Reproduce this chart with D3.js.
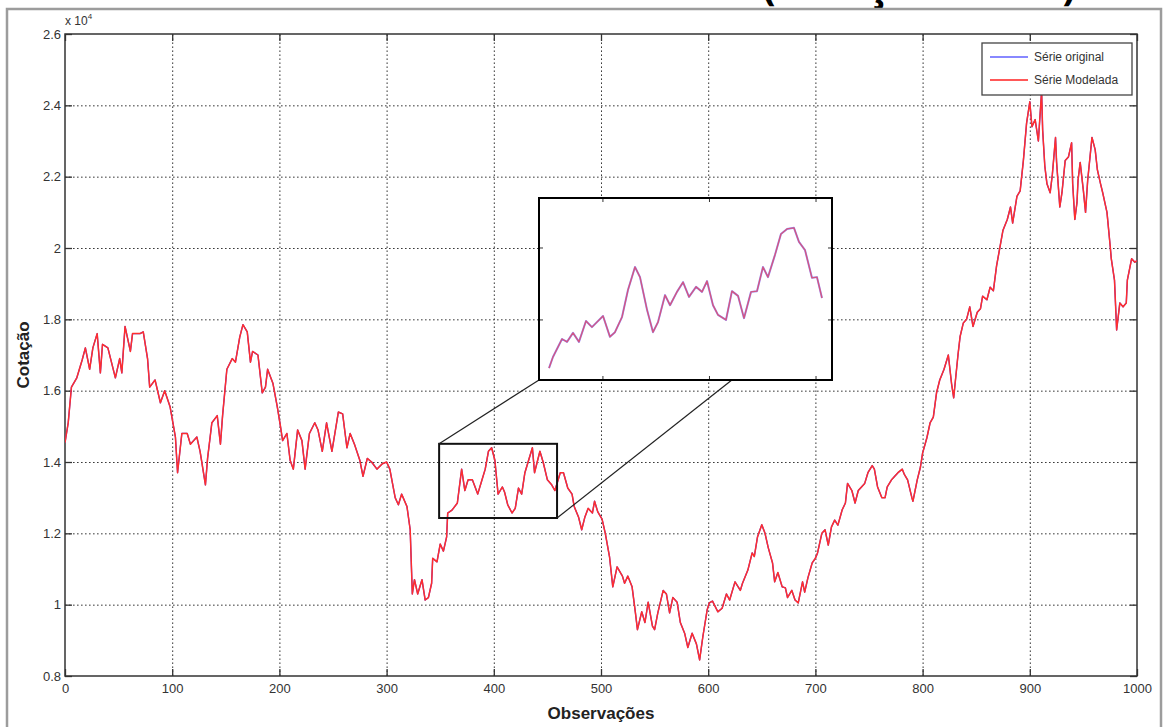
<!DOCTYPE html>
<html>
<head>
<meta charset="utf-8">
<script src="https://cdn.jsdelivr.net/npm/d3@7"></script>
<style>
  body { margin: 0; background: #fff; }
  svg { display: block; }
</style>
</head>
<body>
<svg id="chart" width="1163" height="727"></svg>
<script>
// Observation numbers and closing quotes (points)
const obsIndex = [
  0, 3, 6, 11, 16, 19, 23, 26, 30, 33,
  35, 40, 47, 51, 53, 56, 61, 63, 70, 73,
  77, 79, 84, 89, 93, 98, 103, 105, 109, 114,
  117, 123, 126, 131, 133, 137, 142, 145, 147, 151,
  156, 159, 163, 166, 170, 173, 175, 180, 184, 187,
  189, 194, 198, 201, 203, 207, 210, 213, 217, 221,
  224, 228, 233, 236, 240, 244, 249, 255, 259, 263,
  266, 270, 275, 278, 282, 286, 291, 296, 300, 303,
  308, 311, 314, 319, 322, 324, 326, 329, 333, 336,
  339, 342, 343, 347, 350, 353, 356, 357, 361, 366,
  370, 373, 376, 380, 385, 389, 392, 395, 398, 401,
  404, 408, 410, 413, 417, 420, 423, 426, 429, 432,
  436, 438, 443, 446, 450, 454, 457, 462, 465, 469,
  473, 475, 479, 482, 485, 488, 492, 494, 497, 501,
  504, 508, 511, 515, 520, 522, 525, 529, 532, 534,
  538, 541, 544, 548, 550, 553, 558, 561, 564, 567,
  571, 574, 578, 581, 585, 589, 592, 595, 599, 601,
  604, 609, 613, 617, 620, 625, 630, 632, 637, 641,
  643, 646, 650, 653, 656, 660, 662, 665, 669, 672,
  674, 678, 681, 684, 688, 690, 693, 697, 700, 702,
  706, 709, 712, 715, 718, 721, 725, 728, 730, 734,
  737, 740, 743, 746, 749, 753, 755, 758, 762, 765,
  767, 771, 774, 777, 781, 783, 786, 790, 791, 795,
  798, 800, 804, 807, 810, 813, 816, 820, 824, 827,
  829, 833, 835, 838, 841, 844, 847, 851, 854, 856,
  860, 863, 866, 869, 872, 875, 879, 882, 884, 888,
  891, 894, 897, 900, 902, 905, 908, 911, 912, 914,
  916, 919, 921, 924, 925, 928, 930, 933, 936, 939,
  940, 942, 944, 945, 947, 950, 952, 954, 958, 961,
  963, 966, 968, 972, 975, 976, 979, 981, 984, 987,
  990, 991, 995, 998, 1000
];

const serieOriginal = [
  14540, 15100, 16100, 16360, 16860, 17200, 16600, 17200, 17600, 16500,
  17300, 17200, 16360, 16900, 16500, 17800, 17100, 17600, 17600, 17650,
  16900, 16100, 16300, 15660, 16000, 15550, 14700, 13700, 14800, 14800,
  14500, 14700, 14300, 13360, 14100, 15100, 15300, 14500, 15300, 16600,
  16900, 16800, 17500, 17850, 17650, 16800, 17100, 17000, 15940, 16100,
  16600, 16200, 15550, 15000, 14600, 14800, 14050, 13800, 14900, 14600,
  13800, 14800, 15100, 14900, 14300, 15100, 14300, 15400, 15350, 14400,
  14800, 14500, 14050, 13600, 14100, 14000, 13800, 13950, 14000, 13800,
  13000, 12800, 13100, 12750, 12100, 10300, 10700, 10300, 10700, 10130,
  10200, 10600, 11300, 11200, 11700, 11500, 11900, 12570, 12650, 12850,
  13800, 13200, 13500, 13500, 13100, 13500, 13800, 14300, 14400, 14050,
  13100, 13300, 13160, 12800, 12570, 12700, 13270, 13100, 13700, 14000,
  14400, 13700, 14300, 14000, 13500, 13360, 13200, 13700, 13700, 13270,
  13100, 12750, 12460, 12100, 12460, 12700, 12570, 12900, 12600, 12400,
  12000, 11330, 10500, 11060, 10800, 10600, 10800, 10500, 9800, 9300,
  9800, 9500, 10070, 9400, 9300, 9770, 10400, 10300, 9770, 10200,
  10070, 9500, 9200, 8800, 9200, 8900, 8450, 9100, 9850, 10050,
  10100, 9800, 9900, 10300, 10130, 10640, 10400, 10600, 10970, 11450,
  11350, 11900, 12240, 12000, 11600, 11170, 10640, 10900, 10500, 10470,
  10200, 10400, 10130, 10050, 10640, 10350, 10750, 11170, 11300, 11450,
  12000, 12100, 11670, 12180, 12370, 12230, 12660, 12850, 13400, 13200,
  12850, 13200, 13300, 13400, 13700, 13900, 13800, 13300, 13000, 13000,
  13300, 13500, 13600, 13700, 13800, 13650, 13500, 13000, 12900, 13500,
  13860, 14250, 14680, 15100, 15260, 15940, 16300, 16600, 17000, 16200,
  15800, 17000, 17520, 17900, 18000, 18350, 17800, 18200, 18300, 18650,
  18550, 18900, 18800, 19500, 20000, 20500, 20800, 21150, 20700, 21450,
  21600, 22450, 23500, 24100, 23400, 23600, 23000, 24400, 23300, 22300,
  21800, 21550, 22050, 23100, 22400, 21150, 21550, 22450, 22550, 22950,
  21800, 20800, 21270, 21900, 22400, 21600, 21000, 21900, 23100, 22750,
  22200, 21800, 21550, 21000, 20050, 19700, 19100, 17700, 18460, 18350,
  18460, 19100, 19700, 19600, 19650
];

// The fitted series follows the original point for point
const serieModelada = serieOriginal;

const xTicks = [0, 100, 200, 300, 400, 500, 600, 700, 800, 900, 1000];
const yTicks = [8000, 10000, 12000, 14000, 16000, 18000, 20000, 22000, 24000, 26000];
const yTickLabels = ['0.8', '1', '1.2', '1.4', '1.6', '1.8', '2', '2.2', '2.4', '2.6'];
const legendLabels = ['Série original', 'Série Modelada'];
const seriesColors = ['#3838ff', '#ff2e2e'];

// Window of the main chart that is magnified in the detail panel
const zoomObsRange = [349, 459];
const zoomValRange = [12430, 14510];

// Detail panel curve (its own units)
const detalheX = [
  9.4, 13.1, 21.6, 26.3, 31.9, 37.5, 44.1, 49.7, 60.1, 66.6,
  71.3, 77.9, 83.5, 90.1, 94.8, 101.4, 107.0, 111.7, 118.3, 123.0,
  129.5, 135.2, 140.8, 147.4, 153.0, 157.7, 163.3, 168.0, 175.5, 181.1,
  186.8, 192.4, 199.0, 204.6, 210.2, 214.9, 221.5, 227.1, 232.8, 239.3,
  244.0, 249.7, 256.2, 260.9, 265.6
];
const detalheY = [
  1.466, 1.497, 1.547, 1.539, 1.564, 1.539, 1.597, 1.580, 1.611, 1.553,
  1.566, 1.608, 1.683, 1.747, 1.719, 1.628, 1.566, 1.594, 1.669, 1.641,
  1.678, 1.705, 1.664, 1.692, 1.678, 1.708, 1.641, 1.614, 1.600, 1.680,
  1.667, 1.605, 1.678, 1.680, 1.747, 1.719, 1.781, 1.839, 1.853, 1.856,
  1.817, 1.794, 1.717, 1.719, 1.661
];
const detalheXTicks = [60, 160, 260];
const detalheYTicks = [1.6, 1.8];

const svg = d3.select('#chart');
const plot = { left: 65, right: 1137, top: 34, bottom: 676 };
const plotH = plot.bottom - plot.top;
const plotW = plot.right - plot.left;
const FONT = "'Liberation Sans', Arial, sans-serif";

const x = d3.scaleLinear().domain([0, 1000]).range([plot.left, plot.right]);
const y = d3.scaleLinear().domain([8000, 26000]).range([plot.bottom, plot.top]);

// Heading, mostly above the visible area
svg.append('text')
  .attr('x', 762).attr('y', -1)
  .attr('font-family', "'Open Sans', sans-serif")
  .attr('font-weight', 700)
  .attr('font-size', 44)
  .attr('textLength', 314)
  .attr('lengthAdjust', 'spacingAndGlyphs')
  .attr('fill', '#000')
  .text('(Cotação diária)');

// Figure frame
svg.append('rect')
  .attr('x', 7).attr('y', 9)
  .attr('width', 1154).attr('height', 740)
  .attr('fill', 'none')
  .attr('stroke', '#9c9c9c')
  .attr('stroke-width', 2.5);

// Dotted grid
const gridStyle = g => {
  g.select('.domain').remove();
  g.selectAll('.tick line')
    .attr('stroke', '#3a3a3a')
    .attr('stroke-width', 1)
    .attr('stroke-dasharray', '1.6,2.4');
  g.selectAll('text').remove();
};
svg.append('g')
  .attr('transform', `translate(0,${plot.bottom})`)
  .call(d3.axisBottom(x).tickValues(xTicks.slice(1, -1)).tickSize(-plotH))
  .call(gridStyle);
svg.append('g')
  .attr('transform', `translate(${plot.left},0)`)
  .call(d3.axisLeft(y).tickValues(yTicks.slice(1, -1)).tickSize(-plotW))
  .call(gridStyle);

// Inward tick marks on all four sides, labels on bottom and left
const tickStyle = (g, keepLabels) => {
  g.select('.domain').remove();
  g.selectAll('.tick line').attr('stroke', '#333').attr('stroke-width', 1.3);
  if (!keepLabels) g.selectAll('text').remove();
  g.selectAll('text')
    .attr('font-family', FONT)
    .attr('font-size', 13)
    .attr('fill', '#333');
};
svg.append('g')
  .attr('transform', `translate(0,${plot.bottom})`)
  .call(d3.axisBottom(x).tickValues(xTicks).tickSizeInner(-7).tickSizeOuter(0).tickPadding(8)
    .tickFormat(d3.format('d')))
  .call(g => tickStyle(g, true));
svg.append('g')
  .attr('transform', `translate(0,${plot.top})`)
  .call(d3.axisTop(x).tickValues(xTicks).tickSizeInner(-7).tickSizeOuter(0))
  .call(g => tickStyle(g, false));
svg.append('g')
  .attr('transform', `translate(${plot.left},0)`)
  .call(d3.axisLeft(y).tickValues(yTicks).tickSizeInner(-7).tickSizeOuter(0).tickPadding(4)
    .tickFormat((d, i) => yTickLabels[i]))
  .call(g => tickStyle(g, true));
svg.append('g')
  .attr('transform', `translate(${plot.right},0)`)
  .call(d3.axisRight(y).tickValues(yTicks).tickSizeInner(-7).tickSizeOuter(0))
  .call(g => tickStyle(g, false));

// Axes box
svg.append('rect')
  .attr('x', plot.left).attr('y', plot.top)
  .attr('width', plotW).attr('height', plotH)
  .attr('fill', 'none')
  .attr('stroke', '#333')
  .attr('stroke-width', 1.5);

// Exponent note of the value axis
const expo = svg.append('text')
  .attr('x', plot.left).attr('y', 25)
  .attr('font-family', FONT).attr('font-size', 12).attr('fill', '#333');
expo.append('tspan').text('x 10');
expo.append('tspan').attr('font-size', 8).attr('dy', -6).text('4');

// Series
svg.append('defs').append('clipPath').attr('id', 'plotClip')
  .append('rect')
  .attr('x', plot.left).attr('y', plot.top)
  .attr('width', plotW).attr('height', plotH);

const line = d3.line()
  .x((d, i) => x(obsIndex[i]))
  .y(d => y(d));

const seriesG = svg.append('g').attr('clip-path', 'url(#plotClip)');
seriesG.append('path')
  .datum(serieOriginal)
  .attr('d', line)
  .attr('fill', 'none')
  .attr('stroke', seriesColors[0])
  .attr('stroke-width', 1.3)
  .attr('stroke-linejoin', 'round');
seriesG.append('path')
  .datum(serieModelada)
  .attr('d', line)
  .attr('fill', 'none')
  .attr('stroke', seriesColors[1])
  .attr('stroke-width', 1.5)
  .attr('stroke-linejoin', 'round');

// Zoom window on the main curve
const zx0 = x(zoomObsRange[0]), zx1 = x(zoomObsRange[1]);
const zy0 = y(zoomValRange[1]), zy1 = y(zoomValRange[0]);
svg.append('rect')
  .attr('x', zx0).attr('y', zy0)
  .attr('width', zx1 - zx0).attr('height', zy1 - zy0)
  .attr('fill', 'none')
  .attr('stroke', '#111')
  .attr('stroke-width', 2);

// Detail panel
const inset = { left: 539, right: 832, top: 198, bottom: 380 };
const ix = d3.scaleLinear().domain([0, 275]).range([inset.left, inset.right]);
const iy = d3.scaleLinear().domain([1.433, 1.939]).range([inset.bottom, inset.top]);

// Connector lines between window and panel
svg.append('line')
  .attr('x1', zx0).attr('y1', zy0)
  .attr('x2', inset.left).attr('y2', inset.bottom)
  .attr('stroke', '#222').attr('stroke-width', 1.2);
svg.append('line')
  .attr('x1', zx1).attr('y1', zy1)
  .attr('x2', ix(181)).attr('y2', inset.bottom)
  .attr('stroke', '#222').attr('stroke-width', 1.2);

svg.append('rect')
  .attr('x', inset.left).attr('y', inset.top)
  .attr('width', inset.right - inset.left).attr('height', inset.bottom - inset.top)
  .attr('fill', '#fff');

const insetTicks = svg.append('g').attr('stroke', '#333').attr('stroke-width', 1);
detalheXTicks.forEach(t => {
  insetTicks.append('line').attr('x1', ix(t)).attr('x2', ix(t)).attr('y1', inset.top).attr('y2', inset.top + 4);
  insetTicks.append('line').attr('x1', ix(t)).attr('x2', ix(t)).attr('y1', inset.bottom).attr('y2', inset.bottom - 4);
});
detalheYTicks.forEach(t => {
  insetTicks.append('line').attr('x1', inset.left).attr('x2', inset.left + 4).attr('y1', iy(t)).attr('y2', iy(t));
  insetTicks.append('line').attr('x1', inset.right).attr('x2', inset.right - 4).attr('y1', iy(t)).attr('y2', iy(t));
});

const insetLine = d3.line()
  .x((d, i) => ix(detalheX[i]))
  .y(d => iy(d));
svg.append('path')
  .datum(detalheY)
  .attr('d', insetLine)
  .attr('fill', 'none')
  .attr('stroke', seriesColors[0])
  .attr('stroke-opacity', 0.55)
  .attr('stroke-width', 2)
  .attr('stroke-linejoin', 'round');
svg.append('path')
  .datum(detalheY)
  .attr('d', insetLine)
  .attr('fill', 'none')
  .attr('stroke', seriesColors[1])
  .attr('stroke-opacity', 0.6)
  .attr('stroke-width', 1.4)
  .attr('stroke-linejoin', 'round');

svg.append('rect')
  .attr('x', inset.left).attr('y', inset.top)
  .attr('width', inset.right - inset.left).attr('height', inset.bottom - inset.top)
  .attr('fill', 'none')
  .attr('stroke', '#000')
  .attr('stroke-width', 2);

// Legend
const legend = svg.append('g').attr('transform', 'translate(982,43)');
legend.append('rect')
  .attr('width', 150).attr('height', 52)
  .attr('fill', '#fff')
  .attr('stroke', '#444')
  .attr('stroke-width', 1.3);
legendLabels.forEach((lab, i) => {
  const ly = 14 + i * 23;
  legend.append('line')
    .attr('x1', 8).attr('x2', 46)
    .attr('y1', ly).attr('y2', ly)
    .attr('stroke', seriesColors[i])
    .attr('stroke-opacity', i === 0 ? 0.6 : 0.8)
    .attr('stroke-width', 2);
  legend.append('text')
    .attr('x', 52).attr('y', ly)
    .attr('dy', '0.35em')
    .attr('font-family', FONT)
    .attr('font-size', 12)
    .attr('fill', '#333')
    .text(lab);
});

// Axis titles
svg.append('text')
  .attr('x', (plot.left + plot.right) / 2).attr('y', 719)
  .attr('text-anchor', 'middle')
  .attr('font-family', FONT)
  .attr('font-weight', 700)
  .attr('font-size', 17)
  .attr('fill', '#222')
  .text('Observações');
svg.append('text')
  .attr('transform', `translate(29,${(plot.top + plot.bottom) / 2}) rotate(-90)`)
  .attr('text-anchor', 'middle')
  .attr('font-family', FONT)
  .attr('font-weight', 700)
  .attr('font-size', 17)
  .attr('fill', '#222')
  .text('Cotação');
</script>
</body>
</html>
